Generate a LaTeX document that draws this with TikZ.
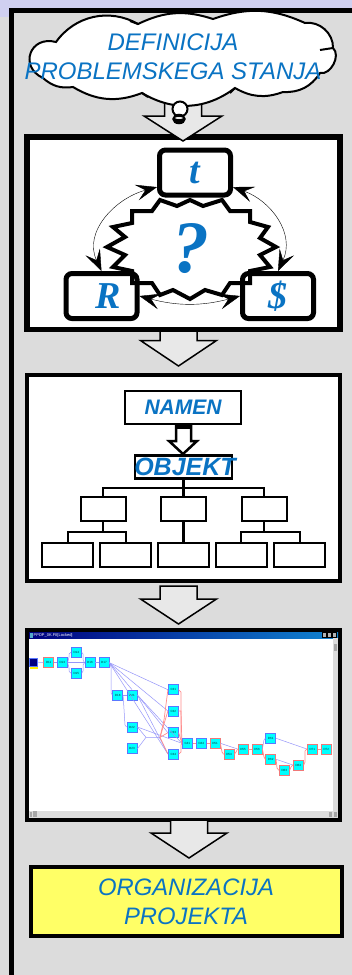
\documentclass[tikz,border=0pt]{standalone}
\usepackage{fontspec}
\setmainfont{Liberation Sans}
\newfontfamily\letterfont{Liberation Serif}
\usetikzlibrary{arrows.meta, positioning}
\definecolor{page_gray}{RGB}{220,220,220}
\definecolor{page_lilac}{RGB}{208,208,240}
\definecolor{arrow_gray}{RGB}{232,232,232}
\definecolor{text_blue}{RGB}{10,115,195}
\definecolor{note_yellow}{RGB}{255,255,102}
\definecolor{task_cyan}{RGB}{0,255,255}
\definecolor{task_blue}{RGB}{90,120,255}
\definecolor{task_red}{RGB}{240,120,120}
\definecolor{line_blue}{RGB}{150,150,250}
\definecolor{line_red}{RGB}{255,140,140}
\definecolor{title_dark}{RGB}{0,0,128}
\definecolor{title_light}{RGB}{16,132,208}
\tikzset{
  roundbox/.style={draw, line width=5pt, rounded corners=6pt, minimum width=71pt, minimum height=45pt, inner sep=0pt, text=text_blue, font=\letterfont\bfseries\itshape\fontsize{38}{38}\selectfont},
  link/.style={{Stealth[length=21pt,width=16pt,inset=9pt]}-{Stealth[length=21pt,width=16pt,inset=9pt]}, line width=0.4pt},
  orgbox/.style={draw, line width=2pt, fill=white, inner sep=0pt, minimum height=24pt},
  orgline/.style={line width=2pt},
  bluetask/.style={draw=task_blue, line width=0.8pt, fill=task_cyan, minimum width=10pt, minimum height=10pt, inner sep=0pt, text=black!60!teal, font=\fontsize{3}{3}\selectfont},
  redtask/.style={bluetask, draw=task_red},
  blueline/.style={line_blue, line width=0.5pt},
  redline/.style={line_red, line width=0.7pt},
}
\newcommand{\blockarrow}[5]{% centre, shaft top, head top, tip, half width of head
  \draw[line width=1.5pt, fill=arrow_gray, line join=miter] (#1-18.5,#2) -- (#1+18.5,#2) -- (#1+18.5,#3) -- (#1+#5,#3) -- (#1,#4) -- (#1-#5,#3) -- (#1-18.5,#3) -- cycle;
}
\begin{document}
\begin{tikzpicture}[x=1pt, y=-1pt]
  \useasboundingbox (0,0) rectangle (352,975);
  % page
  \fill[page_lilac] (0,0) rectangle (352,975);
  \fill[page_gray] (0,17) rectangle (352,975);
  \fill[page_gray] (11,10) rectangle (352,975);
  \draw[line width=5.5pt, line cap=butt] (352,10.5) -- (11.25,10.5) -- (11.25,975);

  % first frame
  \draw[line width=5.5pt, fill=white] (26.75,137) rectangle (340,329.5);
  \draw[line width=4pt, fill=white, line join=miter] (190,200) -- (203,206) -- (222,200) -- (230,211) -- (250,211) -- (250,222) -- (268,227) -- (260,238) -- (276,247) -- (260,255) -- (270,267) -- (250,271) -- (250,283) -- (230,283) -- (222,295) -- (205,290) -- (190,299) -- (173,290) -- (160,295) -- (152,283) -- (132,283) -- (132,271) -- (113,267) -- (125,255) -- (107,247) -- (125,237) -- (113,227) -- (132,223) -- (132,211) -- (152,211) -- (160,200) -- (177,206) -- cycle;
  \node[roundbox, fill=white] (tbox) at (195,172.5) {t};
  \node[roundbox] (rbox) at (101.5,296) {\hspace{13pt}R};
  \node[roundbox] (sbox) at (278,296) {\$\hspace{12pt}};
  \node[text=text_blue, inner sep=0pt, font=\letterfont\bfseries\itshape\fontsize{74}{74}\selectfont] (question) at (191,249) {?};
  \draw[link] (tbox.201) to[out=195, in=115, looseness=1.1] (rbox.north);
  \draw[link] (tbox.339) to[out=-20, in=65, looseness=1.1] (sbox.north);
  \draw[link] (rbox.east) to[out=-15, in=195] (sbox.west);

  % second frame
  \draw[line width=4pt, fill=white] (27,375) rectangle (340,581);
  \node[draw, line width=2.5pt, minimum width=116pt, minimum height=33pt, inner sep=0pt, text=text_blue, font=\bfseries\itshape\fontsize{21}{21}\selectfont] (namen) at (183,407.5) {NAMEN};
  \node[draw, line width=2.5pt, fill=white, minimum width=97pt, minimum height=23pt, inner sep=0pt] (objekt) at (183.5,467) {};
  \node[text=text_blue, inner sep=0pt, font=\bfseries\itshape\fontsize{25}{25}\selectfont] (objekttext) at (185,467) {OBJEKT};
  \draw[line width=2.5pt, fill=white, line join=miter] (176,425) -- (191,425) -- (191,441) -- (197,441) -- (183,454) -- (169,441) -- (176,441) -- cycle;
  \fill (176,423) rectangle (191,429);
  \node[orgbox, minimum width=45pt] (mid1) at (103,509) {};
  \node[orgbox, minimum width=45pt] (mid2) at (183.5,509) {};
  \node[orgbox, minimum width=45pt] (mid3) at (264,509) {};
  \node[orgbox, minimum width=51pt] (low1) at (67.5,554.5) {};
  \node[orgbox, minimum width=51pt] (low2) at (125.5,554.5) {};
  \node[orgbox, minimum width=51pt] (low3) at (183.5,554.5) {};
  \node[orgbox, minimum width=51pt] (low4) at (241,554.5) {};
  \node[orgbox, minimum width=51pt] (low5) at (299.5,554.5) {};
  \draw[line width=3pt] (objekt.south) -- (mid2.north);
  \draw[line width=3pt] (mid2.south) -- (low3.north);
  \draw[orgline] (mid1.north) |- (objekt.south |- 0,488) -| (mid3.north);
  \draw[orgline] (mid1.south) -- (103,532);
  \draw[orgline] (low1.north) |- (103,532) -| (low2.north);
  \draw[orgline] (mid3.south) -- (264,532);
  \draw[orgline] (low4.north) |- (264,532) -| (low5.north);

  % third frame, the window
  \draw[line width=4pt, fill=white] (27,630) rectangle (340,819.5);
  \shade[left color=title_dark, right color=title_light] (29,632) rectangle (338,638);
  \node[anchor=west, inner sep=0pt, text=white, font=\fontsize{4}{4}\selectfont] (wintitle) at (33.5,635) {PPDP\_0K.FII[Locked]};
  \fill[cyan!60!gray] (29.5,632.5) rectangle (32.5,637.5);
  \fill[page_gray] (333,638) rectangle (338,817.5);
  \fill[page_gray] (29,811) rectangle (338,817.5);
  \foreach \x in {322.5,327.5,332.5} {
    \draw[fill=gray!60, line width=0.4pt] (\x,632.5) rectangle +(4,4.5);
  }
  \fill[gray!70] (33,811) rectangle (37,817);
  \fill[gray!70] (29.5,812) rectangle (32,816.5);
  \fill[gray!70] (329,812) rectangle (332,816.5);
  \fill[gray!70] (333.5,812) rectangle (336.5,816.5);
  \fill[gray!70] (334,644) rectangle (337,651);
  \fill[yellow] (29.5,657.5) rectangle (38,668.5);
  \node[bluetask, minimum width=8pt, minimum height=8pt, fill=blue!50!black] (d1) at (33.3,662) {};
  \node[redtask] (d2) at (48.7,662.7) {D11};
  \node[bluetask] (d3) at (62.3,662.7) {D13};
  \node[bluetask] (d4) at (76.3,652.3) {D14};
  \node[bluetask] (d5) at (76.3,673.3) {D15};
  \node[bluetask] (d6) at (90,662.7) {D16};
  \node[bluetask] (d7) at (104,662.7) {D17};
  \node[bluetask] (d8) at (117.7,695) {D18};
  \node[bluetask] (d9) at (132,695) {D21};
  \node[bluetask] (d10) at (132,727) {D22};
  \node[bluetask] (d11) at (132,748.7) {D23};
  \node[bluetask] (c1) at (173.3,689.7) {C31};
  \node[bluetask] (c2) at (173.3,711) {C32};
  \node[bluetask] (c3) at (173.3,732.7) {C33};
  \node[bluetask] (c4) at (173.3,754) {C34};
  \node[bluetask] (c5) at (187.3,743.3) {C41};
  \node[bluetask] (c6) at (201.3,743.3) {D44};
  \node[redtask] (c7) at (215,743.3) {D51};
  \node[redtask] (c8) at (229,754.3) {D54};
  \node[redtask] (c9) at (243,749) {D55};
  \node[redtask] (c10) at (257,749) {D56};
  \node[bluetask] (c11) at (270.7,738.3) {D61};
  \node[redtask] (c12) at (270.7,759.3) {D62};
  \node[redtask] (c13) at (284.3,770.3) {D63};
  \node[redtask] (c14) at (298.3,765) {D64};
  \node[redtask] (c15) at (312.3,749) {D71};
  \node[redtask] (c16) at (326.3,749) {D72};
  \coordinate (split) at (146,737.3);
  \coordinate (join) at (160,737.3);
  % blue links
  \draw[blueline] (d1) -- (d2);
  \draw[blueline] (d2) -- (d3);
  \draw[blueline] (d3) -- (d6);
  \draw[blueline] (d3.east) -- (69,657) -- (69,654) -- (d4.west);
  \draw[blueline] (d3.east) -- (69,668) -- (69,671) -- (d5.west);
  \draw[blueline] (d4.east) -- (83,654) -- (83,660) -- (d6.west);
  \draw[blueline] (d5.east) -- (83,671) -- (83,665) -- (d6.west);
  \draw[blueline] (d6) -- (d7);
  \draw[blueline] (d7.east) -- (111,667) -- (111,693) -- (d8.west);
  \draw[blueline] (d8) -- (d9);
  \draw[blueline] (d8.east) -- (125,725) -- (d10.west);
  \draw[blueline] (d7.east) -- (d9.north);
  \draw[blueline] (d7.east) -- (c1.west);
  \draw[blueline] (d7.east) -- (c2.west);
  \draw[blueline] (d7.east) -- (c4.west);
  \draw[blueline] (d9.east) -- (c3.west);
  \draw[blueline] (d9.east) -- (c4.west);
  \draw[blueline] (d9.east) -- (c5.west);
  \draw[blueline] (d10.east) -- (c5.west);
  \draw[blueline] (d10.east) -- (split);
  \draw[blueline] (d11.east) -- (split) -- (join);
  \draw[blueline] (c7.east) -- (c9.west);
  \draw[blueline] (c10.east) -- (264,740) -- (c11.west);
  \draw[blueline] (c11.east) -- (c15.west);
  \draw[blueline] (c12.east) -- (c14.west);
  % red links
  \draw[redline] (join) -- (164,720) -- (c1.west);
  \draw[redline] (join) -- (c2.west);
  \draw[redline] (join) -- (c3.west);
  \draw[redline] (join) -- (c4.west);
  \draw[redline] (c1.east) -- (181,692) -- (181,738) -- (c5.west);
  \draw[redline] (c2.east) -- (181,711) -- (c5.west);
  \draw[redline] (c3.east) -- (c5.west);
  \draw[redline] (c4.east) -- (181,752) -- (181,745) -- (c5.west);
  \draw[redline] (c5) -- (c6);
  \draw[redline] (c6) -- (c7);
  \draw[redline] (c7.east) -- (222,752) -- (c8.west);
  \draw[redline] (c8.east) -- (236,752) -- (c9.west);
  \draw[redline] (c9) -- (c10);
  \draw[redline] (c10.east) -- (264,757) -- (c12.west);
  \draw[redline] (c12.east) -- (277,768) -- (c13.west);
  \draw[redline] (c13.east) -- (291,767) -- (c14.west);
  \draw[redline] (c14.east) -- (305,762) -- (305,751) -- (c15.west);
  \draw[redline] (c15) -- (c16);

  % block arrows
  \blockarrow{178.5}{331}{340.5}{366}{38}
  \blockarrow{178.5}{586}{599}{624}{38}
  \blockarrow{189}{820}{833}{858}{38}
  \blockarrow{183}{100}{116}{141}{39}

  % cloud
  \draw[line width=2pt, fill=white] (56,42) to[bend left=42] (138,24) to[bend left=22] (213,19) to[bend left=22] (305,23) to[bend left=50] (333,48) to[bend left=75] (320,73) to[bend left=30] (283,92) to[bend left=25] (235,88) to[bend left=34] (142,93) to[bend left=26] (73,87) to[bend left=25] (43,78) to[bend left=85, looseness=1.8] (56,42) -- cycle;
  \draw[line width=2pt] (333,48) -- (320,50);
  \draw[line width=2pt] (142,93) -- (148,97);
  \draw[line width=2pt] (235,88) -- (230,93);
  \draw[line width=2pt] (138,24) -- (130,21);
  \node[text=text_blue, align=center, inner sep=0pt, font=\itshape\fontsize{24}{29}\selectfont] (cloudtext) at (173,56.5) {DEFINICIJA\\PROBLEMSKEGA STANJA};

  % bulb
  \draw[line width=2pt, fill=white] (180,109) circle (7.5);
  \draw[line width=1.5pt, fill=black] (179,119) ellipse (6 and 4.5);
  \fill[arrow_gray] (179,118) ellipse (4 and 1);

  % last box
  \draw[line width=4pt, fill=note_yellow] (31,867) rectangle (342,936);
  \node[text=text_blue, align=center, inner sep=0pt, font=\itshape\fontsize{23.8}{29.5}\selectfont] (organizacija) at (186,902) {ORGANIZACIJA\\PROJEKTA};
\end{tikzpicture}
\end{document}
